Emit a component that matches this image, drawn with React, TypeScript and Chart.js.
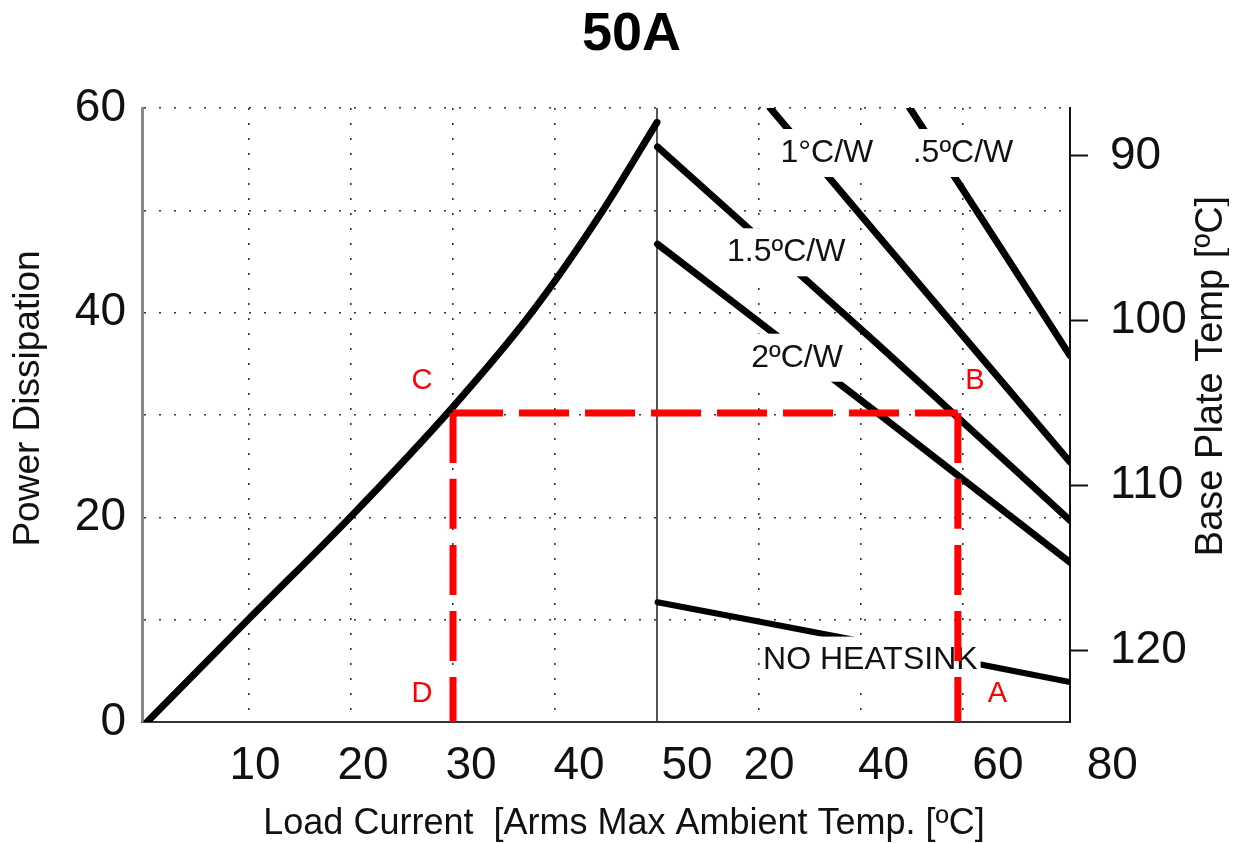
import React, { useEffect, useRef } from 'react';
import { Chart, registerables } from 'chart.js';

Chart.register(...registerables);

const FONT = '"Liberation Sans", Arial, Helvetica, sans-serif';

// ---- Data ----
// Power dissipation (W) vs load current (A)
const loadCurrent = [0, 10, 20, 30, 37.7, 44.7, 50];
const powerDissipation = [0, 10.1, 20.1, 30.8, 40, 50, 58.6];

// Thermal-resistance lines: power (W) vs max ambient temperature (ºC)
const ambient05 = [44.6, 60.4, 72.6];
const power05 = [60, 46.4, 35.8];
const ambient1 = [20.2, 39.4, 72.6];
const power1 = [60, 47.3, 25.4];
const ambient15 = [0.5, 39.4, 72.6];
const power15 = [56.2, 36.7, 19.7];
const ambient2 = [0.5, 39.4, 72.6];
const power2 = [46.7, 30.0, 15.6];
const ambientNoSink = [0.5, 37.1, 72.6];
const powerNoSink = [11.7, 7.8, 3.9];

// Worked example D -> C -> B -> A
const exampleCurrent = 30;
const examplePower = 30.2;
const exampleAmbient = 53;
const exampleCurrentAtB = 79.5;

// Ticks
const powerLabelTicks = [0, 20, 40, 60];
const currentTickLabels = [10, 20, 30, 40, 50];
const ambientTickLabels = [20, 40, 60, 80];
const basePlateTicks = [90, 100, 110, 120];

const TITLE = '50A';
const LEFT_TITLE = 'Power Dissipation';
const BOTTOM_TITLE = 'Load Current  [Arms Max Ambient Temp. [ºC]';
const RIGHT_TITLE = 'Base Plate Temp [ºC]';

const lineLabels = [
  { text: '1°C/W', scale: 'xT', x: 30.1, y: 55.6 },
  { text: '.5ºC/W', scale: 'xT', x: 53.9, y: 55.6 },
  { text: '1.5ºC/W', scale: 'xT', x: 23.0, y: 45.9 },
  { text: '2ºC/W', scale: 'xT', x: 24.9, y: 35.6 },
  { text: 'NO HEATSINK', scale: 'xT', x: 37.7, y: 6.0 },
];
const pointLetters = [
  { text: 'C', scale: 'x', x: 26.95, y: 33.3 },
  { text: 'D', scale: 'x', x: 26.95, y: 2.7 },
  { text: 'B', scale: 'xT', x: 56.0, y: 33.3 },
  { text: 'A', scale: 'xT', x: 59.9, y: 2.7 },
];

const pts = (xs: number[], ys: number[]) => xs.map((x, i) => ({ x, y: ys[i] }));

const blackLine = (label: string, data: any[], xAxisID: string, width = 7) => ({
  label,
  data,
  xAxisID,
  yAxisID: 'y',
  borderColor: '#000',
  borderWidth: width,
  pointRadius: 0,
  borderCapStyle: 'round',
  borderJoinStyle: 'round',
  fill: false,
  order: 2,
});

const redLine = (label: string, data: any[], xAxisID: string) => ({
  label,
  data,
  xAxisID,
  yAxisID: 'y',
  borderColor: '#ff0000',
  borderWidth: 7,
  borderDash: [50, 16],
  borderCapStyle: 'butt',
  pointRadius: 0,
  fill: false,
  order: 1,
  isGuide: true,
});

const annotatePlugin = {
  id: 'annotate',
  afterLayout(chart: any) {
    // the load-current labels share the row of the ambient-temperature labels
    const xl = chart.scales.xL;
    const xt = chart.scales.xT;
    if (xl && xt) {
      xl.top = xt.top;
      xl.bottom = xt.bottom;
      xl.height = xt.height;
    }
  },
  beforeDatasetsDraw(chart: any) {
    chart.$labelsDone = false;
  },
  beforeDatasetDraw(chart: any, args: any) {
    const ds = chart.data.datasets[args.index];
    if (ds.isGuide && !chart.$labelsDone) {
      chart.$labelsDone = true;
      const { ctx } = chart;
      ctx.save();
      ctx.font = `32px ${FONT}`;
      ctx.textAlign = 'center';
      ctx.textBaseline = 'middle';
      for (const l of lineLabels) {
        const px = chart.scales[l.scale].getPixelForValue(l.x);
        const py = chart.scales.y.getPixelForValue(l.y);
        const w = ctx.measureText(l.text).width;
        ctx.fillStyle = '#ffffff';
        ctx.fillRect(px - w / 2 - 3, py - 24, w + 6, 48);
        ctx.fillStyle = '#111';
        ctx.fillText(l.text, px, py);
      }
      ctx.restore();
    }
  },
  afterDatasetsDraw(chart: any) {
    const { ctx } = chart;
    ctx.save();
    ctx.font = `29px ${FONT}`;
    ctx.textAlign = 'center';
    ctx.textBaseline = 'middle';
    ctx.fillStyle = '#ff0000';
    for (const l of pointLetters) {
      const px = chart.scales[l.scale].getPixelForValue(l.x);
      const py = chart.scales.y.getPixelForValue(l.y);
      ctx.fillText(l.text, px, py);
    }
    ctx.restore();
  },
  afterDraw(chart: any) {
    const { ctx, chartArea } = chart;
    const midY = (chartArea.top + chartArea.bottom) / 2;
    ctx.save();
    ctx.fillStyle = '#111';
    ctx.textAlign = 'center';
    // left axis title
    ctx.save();
    ctx.translate(chartArea.left - 113, midY - 16.5);
    ctx.rotate(-Math.PI / 2);
    ctx.font = `37px ${FONT}`;
    ctx.textBaseline = 'middle';
    ctx.fillText(LEFT_TITLE, 0, 0);
    ctx.restore();
    // right axis title
    ctx.save();
    ctx.translate(chartArea.right + 142, midY - 39);
    ctx.rotate(-Math.PI / 2);
    ctx.font = `38px ${FONT}`;
    ctx.textBaseline = 'middle';
    ctx.fillText(RIGHT_TITLE, 0, 0);
    ctx.restore();
    // bottom axis title
    ctx.font = `36px ${FONT}`;
    ctx.textBaseline = 'alphabetic';
    ctx.fillText(BOTTOM_TITLE, chartArea.left + 482, chartArea.bottom + 112);
    ctx.restore();
  },
};

const tickFont = { size: 46, family: FONT };
const DOTS = [2, 13];

export default function App() {
  const ref = useRef<HTMLCanvasElement>(null);

  useEffect(() => {
    const canvas = ref.current;
    if (!canvas) return;
    const chart = new Chart(canvas, {
      type: 'line',
      data: {
        datasets: [
          blackLine('Power dissipation', pts(loadCurrent, powerDissipation), 'x'),
          blackLine('.5ºC/W', pts(ambient05, power05), 'xT'),
          blackLine('1°C/W', pts(ambient1, power1), 'xT'),
          blackLine('1.5ºC/W', pts(ambient15, power15), 'xT'),
          blackLine('2ºC/W', pts(ambient2, power2), 'xT'),
          blackLine('NO HEATSINK', pts(ambientNoSink, powerNoSink), 'xT', 6),
          redLine('C-D', [{ x: exampleCurrent, y: examplePower }, { x: exampleCurrent, y: 0 }], 'x'),
          redLine('C-B', [{ x: exampleCurrent, y: examplePower }, { x: exampleCurrentAtB, y: examplePower }], 'x'),
          redLine('B-A', [{ x: exampleAmbient, y: examplePower }, { x: exampleAmbient, y: 0 }], 'xT'),
        ] as any,
      },
      options: {
        animation: false,
        responsive: true,
        maintainAspectRatio: false,
        layout: { padding: { left: 26, right: 0, top: 0, bottom: 0 } },
        datasets: { line: { cubicInterpolationMode: 'monotone' } } as any,
        plugins: {
          legend: { display: false },
          tooltip: { enabled: false },
          title: {
            display: true,
            text: TITLE,
            color: '#000',
            font: { size: 54, weight: 'bold', family: FONT, lineHeight: 1.0 },
            padding: { top: 0, bottom: 46 },
          },
        },
        scales: {
          x: {
            type: 'linear',
            position: 'bottom',
            min: -0.5,
            max: 90.5,
            weight: 0,
            afterBuildTicks: (s: any) => {
              const t: any[] = [];
              for (let v = 10; v < 90; v += 10) t.push({ value: v });
              s.ticks = t;
            },
            ticks: { display: false },
            grid: {
              drawTicks: false,
              color: (c: any) => (c.tick && c.tick.value === 50 ? '#555' : '#333'),
              lineWidth: (c: any) => (c.tick && c.tick.value === 50 ? 2 : 1.6),
            },
            border: {
              display: true,
              color: '#333',
              width: 2,
              dash: (c: any) => (c.tick && c.tick.value === 50 ? [] : DOTS),
            },
            afterFit: (s: any) => { s.height = 0; },
          },
          xL: {
            type: 'linear',
            position: 'bottom',
            min: -0.46,
            max: 85.46,
            weight: 1,
            afterBuildTicks: (s: any) => { s.ticks = currentTickLabels.map((v) => ({ value: v })); },
            ticks: { font: tickFont, color: '#111', padding: 17, autoSkip: false, maxRotation: 0, callback: (v: any) => String(v) },
            grid: { display: false, drawTicks: false },
            border: { display: false },
            afterFit: (s: any) => { s.height = 0; },
          },
          xT: {
            type: 'linear',
            position: 'bottom',
            min: -89.6,
            max: 72.6,
            weight: 2,
            afterBuildTicks: (s: any) => { s.ticks = ambientTickLabels.map((v) => ({ value: v })); },
            ticks: { font: tickFont, color: '#111', padding: 17, autoSkip: false, maxRotation: 0, callback: (v: any) => String(v) },
            grid: { display: false, drawTicks: false },
            border: { display: false },
            afterFit: (s: any) => { s.height = 121; },
          },
          y: {
            type: 'linear',
            position: 'left',
            min: 0,
            max: 60,
            ticks: {
              stepSize: 10,
              font: tickFont,
              color: '#111',
              padding: 16,
              callback: (v: any) => (powerLabelTicks.includes(Number(v)) ? String(v) : ''),
            },
            grid: { drawTicks: false, color: '#333', lineWidth: 1.6 },
            border: { display: true, color: '#888', width: 3, dash: DOTS },
            afterFit: (s: any) => { s.width = 108; },
          },
          yT: {
            type: 'linear',
            position: 'right',
            min: 87.09,
            max: 124.37,
            reverse: true,
            afterBuildTicks: (s: any) => { s.ticks = basePlateTicks.map((v) => ({ value: v })); },
            ticks: { font: tickFont, color: '#111', padding: 22, autoSkip: false, callback: (v: any) => String(v) },
            grid: { drawOnChartArea: false, drawTicks: true, tickLength: 18, tickColor: '#111', tickWidth: 2 },
            border: { display: true, color: '#111', width: 2 },
            afterFit: (s: any) => { s.width = 159; },
          },
        } as any,
      },
      plugins: [annotatePlugin],
    } as any);
    return () => chart.destroy();
  }, []);

  return (
    <div style={{ position: 'relative', width: 1221, height: 835 }}>
      <canvas ref={ref} style={{ display: 'block' }} />
    </div>
  );
}
